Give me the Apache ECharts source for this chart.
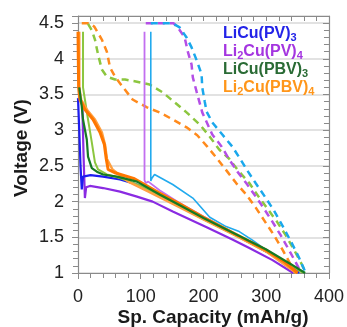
<!DOCTYPE html>
<html><head><meta charset="utf-8">
<script src="https://cdn.jsdelivr.net/npm/echarts@6/dist/echarts.min.js"></script>
<style>html,body{margin:0;padding:0;background:#fff}#c{width:347px;height:327px}</style>
</head><body><div id="c"></div>
<script>
// ---- data (capacity mAh/g, voltage V) ----
const xTicks = [0, 100, 200, 300, 400];
const yTicks = [1, 1.5, 2, 2.5, 3, 3.5, 4, 4.5];
const legendNames = ['LiCu(PV)3', 'Li2Cu(PV)4', 'LiCu(PBV)3', 'Li2Cu(PBV)4'];

// dashed (charge) curves
const capCyanD  = [116,150,162,173,181,190,197,198,202,205,214,230,246,259,271,283,297,312,326,340,352,363];
const voltCyanD = [4.5,4.5,4.44,4.30,4.16,3.96,3.78,3.60,3.40,3.26,3.11,2.94,2.77,2.59,2.42,2.26,2.08,1.88,1.66,1.43,1.22,1.0];
const capVioD   = [108,152,159,170,175,181,183,189,194,198,214,229,241,254,268,281,295,309,323,337,350,356];
const voltVioD  = [4.5,4.5,4.44,4.30,4.10,3.92,3.74,3.54,3.38,3.25,2.94,2.77,2.59,2.42,2.26,2.10,1.92,1.73,1.53,1.31,1.10,1.0];
const capLgD    = [16,22,27,32,38,46,59,75,94,114,135,154,173,194,210,225,241,254,273,287,302,317,331,344,355,363];
const voltLgD   = [4.49,4.40,4.27,4.06,3.85,3.75,3.71,3.71,3.68,3.64,3.53,3.39,3.25,3.08,2.91,2.73,2.60,2.45,2.26,2.08,1.90,1.72,1.53,1.33,1.15,1.0];
const capLoD    = [6,19,26,38,46,51,59,71,87,110,130,151,173,190,206,222,238,252,268,283,298,313,327,340,346];
const voltLoD   = [4.5,4.5,4.45,4.27,4.10,3.88,3.75,3.61,3.43,3.32,3.25,3.15,3.04,2.93,2.77,2.60,2.42,2.26,2.10,1.92,1.72,1.52,1.31,1.10,1.0];

// solid (discharge) curves
const capBlue   = [0,2,4,6,8,20,40,67,94,119,160,200,250,300,340,352];
const voltBlue  = [3.45,3.0,2.5,2.17,2.35,2.37,2.35,2.31,2.24,2.14,1.95,1.77,1.54,1.30,1.10,1.0];
const capCyan   = [116,116,118,122,151,183,210,236,257,278,316,350,353];
const voltCyan  = [4.38,2.29,2.33,2.38,2.24,2.05,1.78,1.65,1.58,1.46,1.22,1.02,1.0];
const capPur    = [7,9,11,13,19,40,67,94,119,151,205,246,273,310,343];
const voltPur   = [3.3,2.6,2.05,2.2,2.22,2.19,2.14,2.07,2.0,1.86,1.64,1.47,1.35,1.18,1.0];
const capVio    = [106,106,108,112,130,160,200,250,300,350];
const voltVio   = [4.38,2.3,2.26,2.28,2.16,1.99,1.79,1.55,1.30,1.0];
const capDg     = [2,6,8,14,16,22,30,40,62,94,130,160,200,250,300,340,362];
const voltDg    = [3.6,3.33,3.15,2.87,2.63,2.47,2.42,2.38,2.35,2.28,2.10,1.96,1.77,1.55,1.33,1.12,1.0];
const capLg     = [8,8,11,16,22,27,32,46,67,100,160,200,250,300,340,358];
const voltLg    = [4.38,3.6,3.43,3.15,2.83,2.55,2.45,2.38,2.33,2.22,1.94,1.75,1.53,1.30,1.11,1.0];
const capOr     = [0,1,3,11,24,35,42,45,48,60,90,130,160,200,250,300,330,350];
const voltOr    = [4.38,3.6,3.43,3.29,3.15,2.97,2.80,2.60,2.45,2.40,2.32,2.12,1.98,1.78,1.55,1.32,1.15,1.0];
const capLo     = [2,2,5,14,27,38,43,46,55,80,110,160,200,250,300,348];
const voltLo    = [4.38,3.6,3.43,3.29,3.15,2.97,2.80,2.60,2.45,2.28,2.15,1.93,1.75,1.53,1.30,1.0];

function pts(xs, ys){ return xs.map((x,i)=>[x, ys[i]]); }
function line(xs, ys, color, width, dashed, z){
  return {type:'line', data:pts(xs,ys), showSymbol:false, symbol:'none', smooth:false, z:z||2,
    lineStyle:{color:color, width:width, type: dashed ? [7,5] : 'solid'}, silent:true, animation:false};
}

const FONT = '"Liberation Sans", Arial, sans-serif';
const chart = echarts.init(document.getElementById('c'), null, {renderer:'canvas'});
const axisLineStyle = {lineStyle:{color:'#8a8a8a', width:1.2}};
const tickStyle = {color:'#8a8a8a', width:1};

chart.setOption({
  animation:false,
  grid:{left:78, right:17, top:16, bottom:54, containLabel:false},
  xAxis:[
    {type:'value', min:xTicks[0], max:xTicks[xTicks.length-1], interval:100, position:'bottom',
     axisLine:{show:true, onZero:false, ...axisLineStyle},
     axisTick:{show:true, length:6, inside:false, lineStyle:tickStyle},
     minorTick:{show:true, splitNumber:5, length:5, lineStyle:tickStyle},
     splitLine:{show:false},
     axisLabel:{fontFamily:FONT, fontSize:18, color:'#222', margin:15}},
    {type:'value', min:xTicks[0], max:xTicks[xTicks.length-1], interval:100, position:'top',
     axisLine:{show:true, onZero:false, ...axisLineStyle},
     axisTick:{show:true, length:5, inside:true, lineStyle:tickStyle},
     minorTick:{show:true, splitNumber:5, length:5, lineStyle:tickStyle},
     splitLine:{show:false}, axisLabel:{show:false}}
  ],
  yAxis:[
    {type:'value', min:yTicks[0], max:4.6, interval:0.5, position:'left',
     axisLine:{show:true, onZero:false, ...axisLineStyle},
     axisTick:{show:true, length:6, inside:false, lineStyle:tickStyle},
     minorTick:{show:true, splitNumber:5, length:5, lineStyle:tickStyle},
     splitLine:{show:true, lineStyle:{color:'#d9d9d9', width:1.5}},
     axisLabel:{fontFamily:FONT, fontSize:18, color:'#222', margin:14, showMaxLabel:false,
       formatter:(v)=> yTicks.indexOf(+v.toFixed(2))>=0 ? String(+v.toFixed(2)) : ''}},
    {type:'value', min:yTicks[0], max:4.6, interval:0.5, position:'right',
     axisLine:{show:true, onZero:false, ...axisLineStyle},
     axisTick:{show:true, length:6, inside:true, lineStyle:tickStyle},
     minorTick:{show:true, splitNumber:5, length:5, lineStyle:tickStyle},
     splitLine:{show:false}, axisLabel:{show:false}}
  ],
  series:[
    line(capLoD, voltLoD, '#ff8a1c', 2.5, true, 2),
    line(capLgD, voltLgD, '#8cc63f', 2.5, true, 2),
    line(capVioD, voltVioD, '#b44fe6', 2.5, true, 2),
    line(capCyanD, voltCyanD, '#1aa8ec', 2.5, true, 2),
    line(capVio, voltVio, '#c26ff0', 1.8, false, 3),
    line(capCyan, voltCyan, '#22aaee', 1.6, false, 3),
    line(capPur, voltPur, '#8a2be2', 2.2, false, 3),
    line(capBlue, voltBlue, '#1c1cf0', 2.2, false, 3),
    line(capLg, voltLg, '#8cc63f', 2, false, 3),
    line(capLo, voltLo, '#ffa040', 2.5, false, 4),
    line(capOr, voltOr, '#ff7700', 3, false, 4),
    line(capDg, voltDg, '#167a22', 2.2, false, 5)
  ],
  graphic:[
    {type:'text', left:223, top:26, z:10, style:{text:'{a|LiCu(PV)}{s|3}', rich:{
      a:{fontFamily:FONT, fontSize:16, fontWeight:'bold', fill:'#2323e8'},
      s:{fontFamily:FONT, fontSize:11, fontWeight:'bold', fill:'#2323e8', padding:[8,0,0,0]}}}},
    {type:'text', left:223, top:44, z:10, style:{text:'{a|Li}{s|2}{a|Cu(PV)}{s|4}', rich:{
      a:{fontFamily:FONT, fontSize:16, fontWeight:'bold', fill:'#a435e0'},
      s:{fontFamily:FONT, fontSize:11, fontWeight:'bold', fill:'#a435e0', padding:[8,0,0,0]}}}},
    {type:'text', left:223, top:62, z:10, style:{text:'{a|LiCu(PBV)}{s|3}', rich:{
      a:{fontFamily:FONT, fontSize:16, fontWeight:'bold', fill:'#2a6b35'},
      s:{fontFamily:FONT, fontSize:11, fontWeight:'bold', fill:'#2a6b35', padding:[8,0,0,0]}}}},
    {type:'text', left:223, top:80, z:10, style:{text:'{a|Li}{s|2}{a|Cu(PBV)}{s|4}', rich:{
      a:{fontFamily:FONT, fontSize:16, fontWeight:'bold', fill:'#ff961a'},
      s:{fontFamily:FONT, fontSize:11, fontWeight:'bold', fill:'#ff961a', padding:[8,0,0,0]}}}},
    {type:'text', x:213, y:318, z:10, style:{text:'Sp. Capacity (mAh/g)', fontFamily:FONT, fontSize:19,
      fontWeight:'bold', fill:'#1a1a1a', align:'center', verticalAlign:'middle'}},
    {type:'text', x:22, y:148, rotation:Math.PI/2, z:10, style:{text:'Voltage (V)', fontFamily:FONT, fontSize:19,
      fontWeight:'bold', fill:'#1a1a1a', align:'center', verticalAlign:'middle'}}
  ]
});
</script></body></html>
